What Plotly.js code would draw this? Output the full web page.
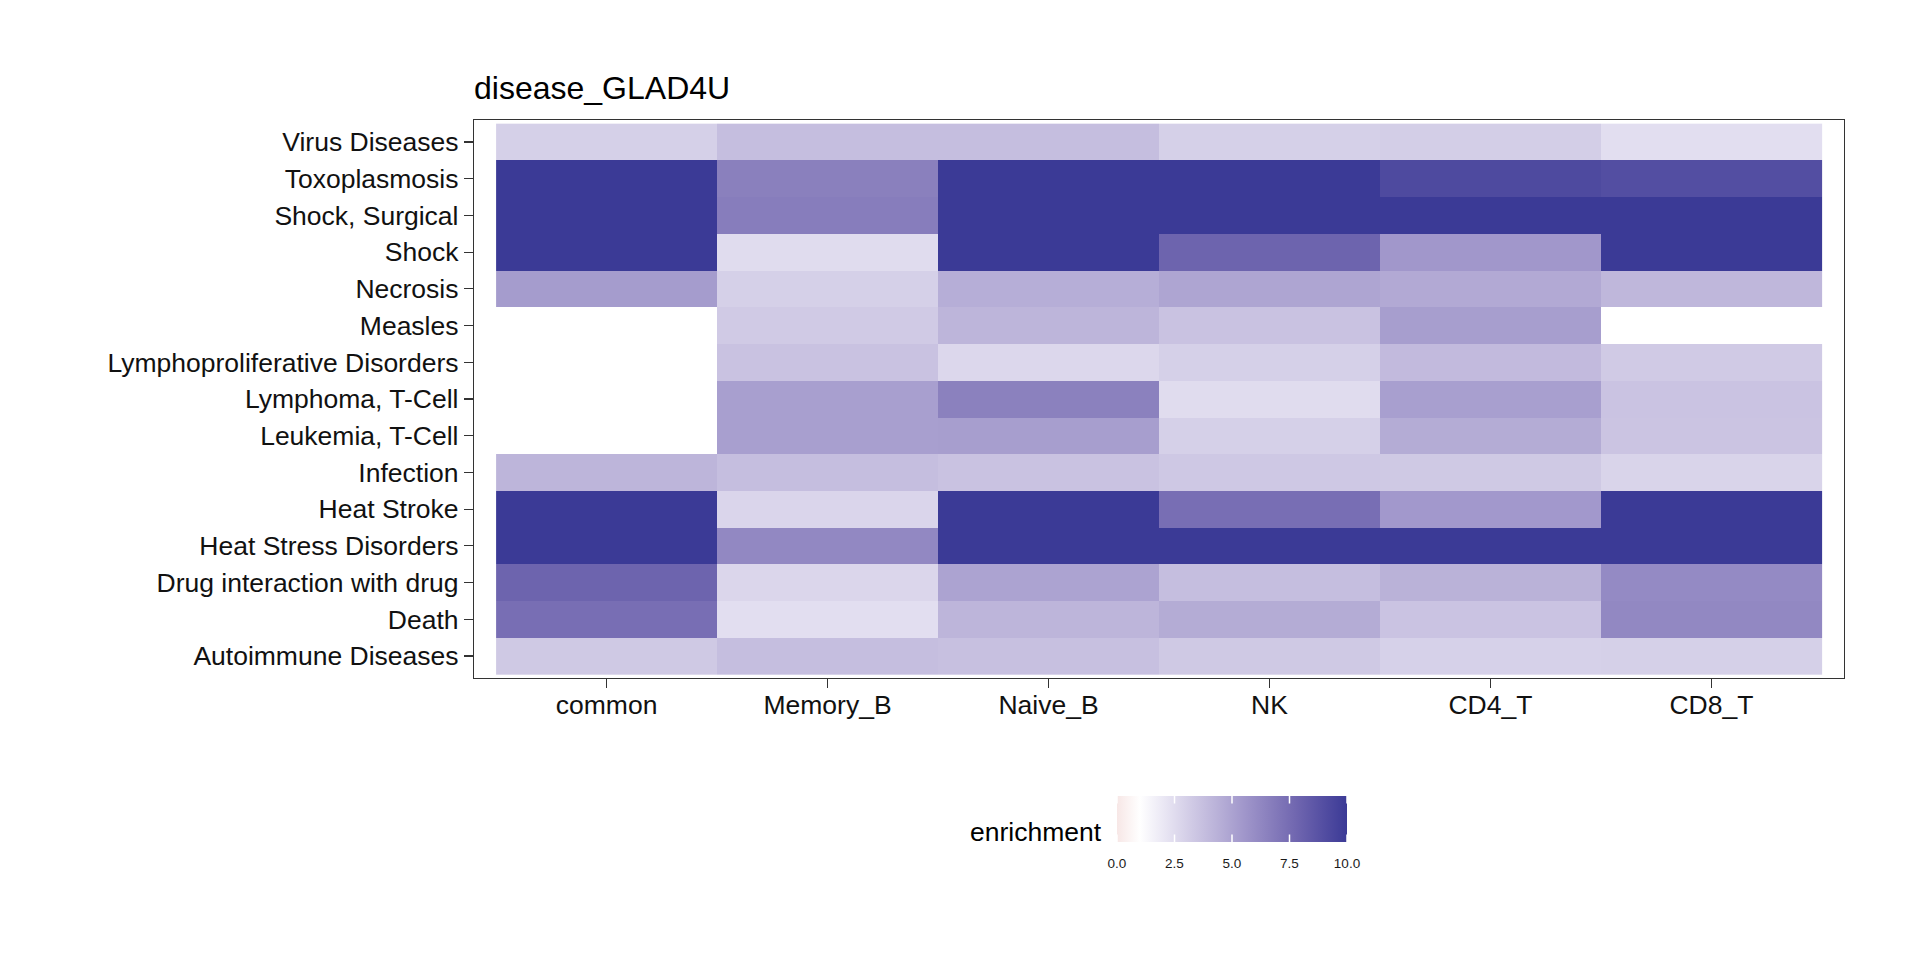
<!DOCTYPE html>
<html>
<head>
<meta charset="utf-8">
<script src="https://cdn.plot.ly/plotly-3.0.1.min.js"></script>
<style>
  html, body { margin: 0; padding: 0; background: #ffffff; }
  #chart { width: 1920px; height: 960px; }
</style>
</head>
<body>
<div id="chart"></div>
<script>
// Cell types (x axis, left to right)
const cellTypes = ["common", "Memory_B", "Naive_B", "NK", "CD4_T", "CD8_T"];

// Diseases (y axis, bottom to top)
const diseases = [
  "Autoimmune Diseases", "Death", "Drug interaction with drug",
  "Heat Stress Disorders", "Heat Stroke", "Infection",
  "Leukemia, T-Cell", "Lymphoma, T-Cell", "Lymphoproliferative Disorders",
  "Measles", "Necrosis", "Shock", "Shock, Surgical",
  "Toxoplasmosis", "Virus Diseases"
];

// Enrichment per cell type, same order as diseases (null = no value)
const common  = [3.3, 7.4, 7.9, 10, 10, 4.2, null, null, null, null, 5.3, 10, 10, 10, 3.0];
const memoryB = [3.8, 2.4, 2.75, 6.2, 2.8, 3.8, 5.15, 5.15, 3.6, 3.25, 3.0, 2.5, 6.7, 6.6, 3.8];
const naiveB  = [3.7, 4.2, 5.0, 10, 10, 3.6, 5.2, 6.55, 2.7, 4.2, 4.5, 10, 10, 10, 3.8];
const nk      = [3.3, 4.6, 3.8, 10, 7.4, 3.35, 3.0, 2.5, 3.0, 3.6, 4.9, 7.9, 10, 10, 3.0];
const cd4T    = [2.95, 3.55, 4.35, 10, 5.45, 3.3, 4.6, 5.15, 3.95, 5.2, 4.7, 5.5, 10, 9.2, 3.1];
const cd8T    = [3.0, 6.2, 6.1, 10, 10, 2.85, 3.5, 3.55, 3.25, null, 4.1, 10, 10, 9.0, 2.4];

// Colour bar ticks
const cbTickVals = [0, 2.5, 5, 7.5, 10];
const cbTickText = ["0.0", "2.5", "5.0", "7.5", "10.0"];

const columns = [common, memoryB, naiveB, nk, cd4T, cd8T];
const z = diseases.map((d, i) => columns.map(col => col[i]));

const FONT = "Liberation Sans, Arial, Helvetica, sans-serif";

// plot area in pixels
const PL = 474, PR = 1844, PT = 120, PB = 678;
const px2x = p => (p - PL) / (PR - PL);
const px2y = p => (PB - p) / (PB - PT);

// colour bar geometry (pixels)
const CB_L = 1117, CB_W = 230, CB_T = 796, CB_H = 46, CB_TICK = 9;
const ZMIN = 0, ZMAX = 10;

const trace = {
  type: "heatmap",
  x: cellTypes,
  y: diseases,
  z: z,
  zmin: ZMIN,
  zmax: ZMAX,
  hoverongaps: false,
  colorscale: [
    [0.0,   "#F7E7E6"],
    [0.1,   "#FFFFFF"],
    [0.2125,"#E8E5F3"],
    [0.325, "#D0CAE5"],
    [0.4375,"#B9B1D8"],
    [0.55,  "#A197CB"],
    [0.6625,"#897FBD"],
    [0.775, "#7167B0"],
    [0.8875,"#5650A3"],
    [1.0,   "#3B3A96"]
  ],
  colorbar: {
    orientation: "h",
    x: px2x(CB_L + CB_W / 2),
    xanchor: "center",
    y: px2y(CB_T),
    yanchor: "top",
    len: CB_W,
    lenmode: "pixels",
    thickness: CB_H,
    thicknessmode: "pixels",
    outlinewidth: 0,
    xpad: 0,
    ypad: 0,
    tickmode: "array",
    tickvals: cbTickVals,
    ticktext: cbTickText,
    ticks: "outside",
    ticklen: 10,
    tickwidth: 1,
    tickcolor: "rgba(0,0,0,0)",
    tickfont: { family: FONT, size: 13.5, color: "#1a1a1a" }
  }
};

// white tick marks on the top and bottom edges of the colour bar (drawn as arrow-only annotations)
const cbTickMarks = [];
cbTickVals.forEach(v => {
  const xp = CB_L + (v - ZMIN) / (ZMAX - ZMIN) * CB_W;
  [[CB_T, CB_TICK], [CB_T + CB_H, -CB_TICK]].forEach(([yEdge, off]) => {
    cbTickMarks.push({
      xref: "paper", yref: "paper",
      x: px2x(xp), y: px2y(yEdge),
      text: "",
      showarrow: true,
      arrowhead: 0,
      arrowwidth: 1.5,
      arrowcolor: "#FFFFFF",
      standoff: 0,
      startstandoff: 0,
      ax: 0,
      ay: off
    });
  });
});

const layout = {
  width: 1920,
  height: 960,
  paper_bgcolor: "#FFFFFF",
  plot_bgcolor: "#FFFFFF",
  margin: { l: PL, r: 1920 - PR, t: PT, b: 960 - PB, pad: 0 },
  title: {
    text: "disease_GLAD4U",
    font: { family: FONT, size: 32, color: "#000000" },
    xref: "paper",
    x: 0,
    xanchor: "left",
    yref: "container",
    y: 1 - 88 / 960,
    yanchor: "middle"
  },
  xaxis: {
    type: "category",
    range: [-0.6, 5.6],
    showgrid: false,
    zeroline: false,
    showline: true,
    mirror: true,
    linecolor: "#333333",
    linewidth: 1.2,
    ticks: "outside",
    ticklen: 9,
    tickwidth: 1.2,
    tickcolor: "#333333",
    ticklabelstandoff: -6,
    tickfont: { family: FONT, size: 26.5, color: "#111111" },
    fixedrange: true
  },
  yaxis: {
    type: "category",
    range: [-0.6, 14.6],
    showgrid: false,
    zeroline: false,
    showline: true,
    mirror: true,
    linecolor: "#333333",
    linewidth: 1.2,
    ticks: "outside",
    ticklen: 9,
    tickwidth: 1.2,
    tickcolor: "#333333",
    tickfont: { family: FONT, size: 26.5, color: "#111111" },
    fixedrange: true
  },
  annotations: [
    {
      text: "enrichment",
      xref: "paper",
      yref: "paper",
      x: px2x(1104),
      xanchor: "right",
      y: px2y(832),
      yanchor: "middle",
      showarrow: false,
      font: { family: FONT, size: 26.5, color: "#000000" }
    }
  ].concat(cbTickMarks)
};

Plotly.newPlot("chart", [trace], layout, { staticPlot: true, displayModeBar: false });
</script>
</body>
</html>
